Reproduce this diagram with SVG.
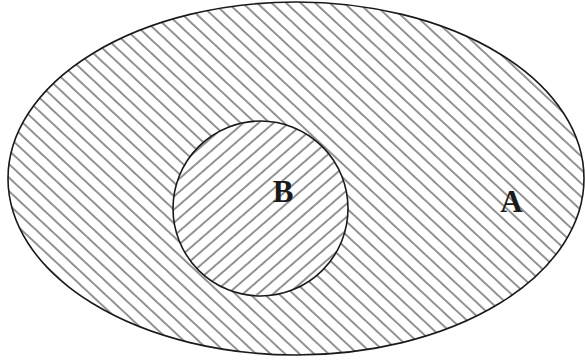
<svg xmlns="http://www.w3.org/2000/svg" width="585" height="363" viewBox="0 0 585 363">
<style>
.outline{stroke:#1a1a1a;stroke-width:1.6}
.hatch{stroke:#4a4a4a;stroke-width:1.2}
.lbl{font-family:"Liberation Serif","DejaVu Serif",serif;font-weight:bold;font-size:31px;fill:#1a1a1a;text-anchor:middle}
</style>
<defs>
<pattern id="hA" width="20" height="9.9" patternUnits="userSpaceOnUse" patternTransform="rotate(43)">
<line class="hatch" x1="0" y1="5" x2="20" y2="5"/>
</pattern>
<pattern id="hB" width="20" height="9.9" patternUnits="userSpaceOnUse" patternTransform="rotate(-41)">
<line class="hatch" x1="0" y1="5" x2="20" y2="5"/>
</pattern>
</defs>
<rect width="585" height="363" fill="#fff"/>
<g id="A">
<ellipse cx="296" cy="178.5" rx="288" ry="176.5" fill="#fff"/>
<ellipse class="outline" cx="296" cy="178.5" rx="288" ry="176.5" fill="url(#hA)"/>
<text class="lbl" x="511.5" y="212">A</text>
</g>
<g id="B">
<circle cx="260.5" cy="208.5" r="87.5" fill="#fff"/>
<circle class="outline" cx="260.5" cy="208.5" r="87.5" fill="url(#hB)"/>
<text class="lbl" x="283" y="202">B</text>
</g>
<g id="connectors"/>
</svg>
